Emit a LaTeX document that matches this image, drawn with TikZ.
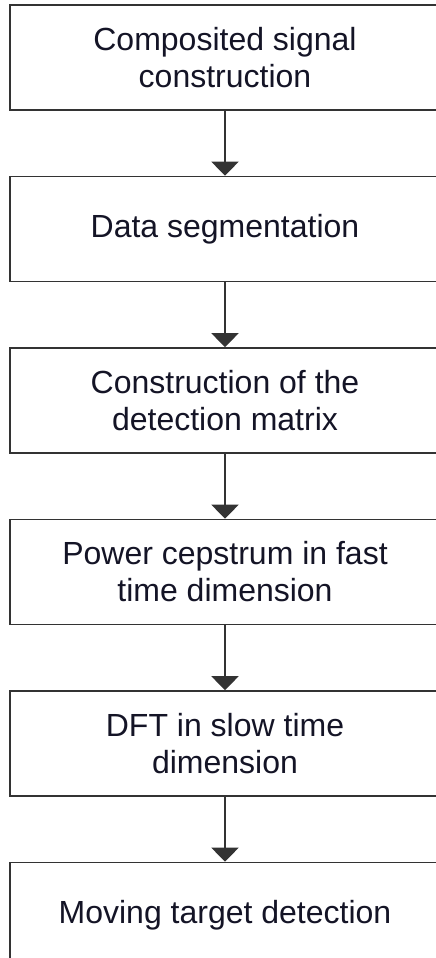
\documentclass[tikz,border=0pt]{standalone}
\usepackage{fontspec}
\setmainfont{Liberation Sans}
\usetikzlibrary{arrows.meta,positioning}
\definecolor{flowline}{rgb}{0.20,0.20,0.20}
\definecolor{flowtext}{rgb}{0.08,0.08,0.15}

\begin{document}
\begin{tikzpicture}[x=1pt, y=1pt,
  every node/.style={font=\fontsize{32}{37}\selectfont, text=flowtext},
  stepbox/.style={draw=flowline, line width=1.5pt, minimum width=430pt,
    minimum height=105pt, align=center, inner sep=0pt},
  flowarrow/.style={draw=flowline, line width=1.5pt,
    -{Triangle[width=27pt, length=14pt]}}]
  % Page frame
  \useasboundingbox (0,0) rectangle (436,958);
  \fill[white] (0,0) rectangle (436,958);
  % Processing steps
  \node[stepbox] (compose) at (225,900.5) {Composited signal\\construction};
  \node[stepbox, below=65pt of compose] (segment) {Data segmentation};
  \node[stepbox, below=65pt of segment] (matrix) {Construction of the\\detection matrix};
  \node[stepbox, below=65pt of matrix] (cepstrum) {Power cepstrum in fast\\time dimension};
  \node[stepbox, below=65pt of cepstrum] (dft) {DFT in slow time\\dimension};
  \node[stepbox, below=65pt of dft] (detect) {Moving target detection};
  % Connectors
  \draw[flowarrow] (compose) -- (segment);
  \draw[flowarrow] (segment) -- (matrix);
  \draw[flowarrow] (matrix) -- (cepstrum);
  \draw[flowarrow] (cepstrum) -- (dft);
  \draw[flowarrow] (dft) -- (detect);
\end{tikzpicture}
\end{document}
